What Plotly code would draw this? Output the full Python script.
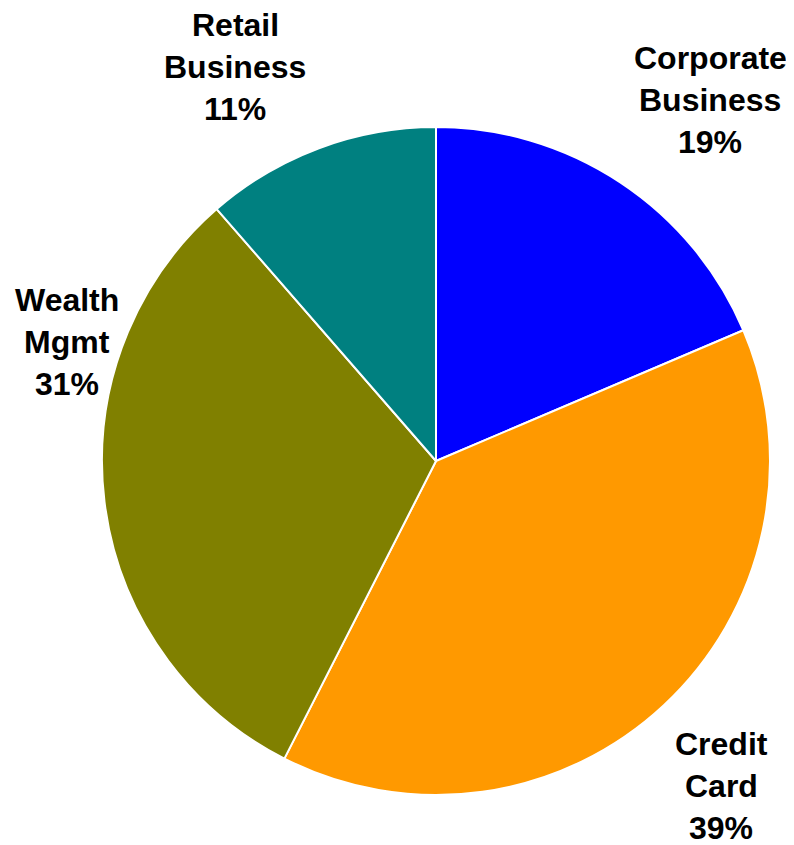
import plotly.graph_objects as go

categories = ["Corporate Business", "Credit Card", "Wealth Mgmt", "Retail Business"]
label_lines = [["Corporate", "Business"], ["Credit", "Card"], ["Wealth", "Mgmt"], ["Retail", "Business"]]
values = [18.6, 38.9, 31.1, 11.4]
colors = ["#0000FF", "#FF9900", "#808000", "#008080"]

W, H = 794, 845
OFF = 8  # page body margin
cx, cy, r = 436 - OFF, 461 - OFF, 334  # pixel center / radius of pie within figure

fig = go.Figure(go.Pie(
    labels=categories,
    values=values,
    sort=False,
    direction="clockwise",
    rotation=0,
    marker=dict(colors=colors, line=dict(color="white", width=2)),
    textinfo="none",
    hoverinfo="label+percent",
    showlegend=False,
    domain=dict(x=[(cx - r) / W, (cx + r) / W], y=[(H - cy - r) / H, (H - cy + r) / H]),
))

# label anchor (pixel centers of label blocks), placed Excel "best fit"-style
label_pos = [(710, 100), (721, 786), (67, 342), (235, 67)]
line_gap = 42
total = sum(values)
for lines, v, (lx, ly) in zip(label_lines, values, label_pos):
    texts = lines + [f"{round(100 * v / total)}%"]
    n = len(texts)
    for i, t in enumerate(texts):
        yy = ly + (i - (n - 1) / 2) * line_gap - OFF
        fig.add_annotation(
            x=(lx - OFF) / W, y=1 - yy / H, xref="paper", yref="paper",
            text=f"<b>{t}</b>", showarrow=False,
            xanchor="center", yanchor="middle",
            font=dict(family="Liberation Sans, Arial, sans-serif", size=32, color="black"),
        )

fig.update_layout(
    width=W, height=H,
    margin=dict(l=0, r=0, t=0, b=0),
    paper_bgcolor="white",
    plot_bgcolor="white",
)

fig.write_html("out.html")
